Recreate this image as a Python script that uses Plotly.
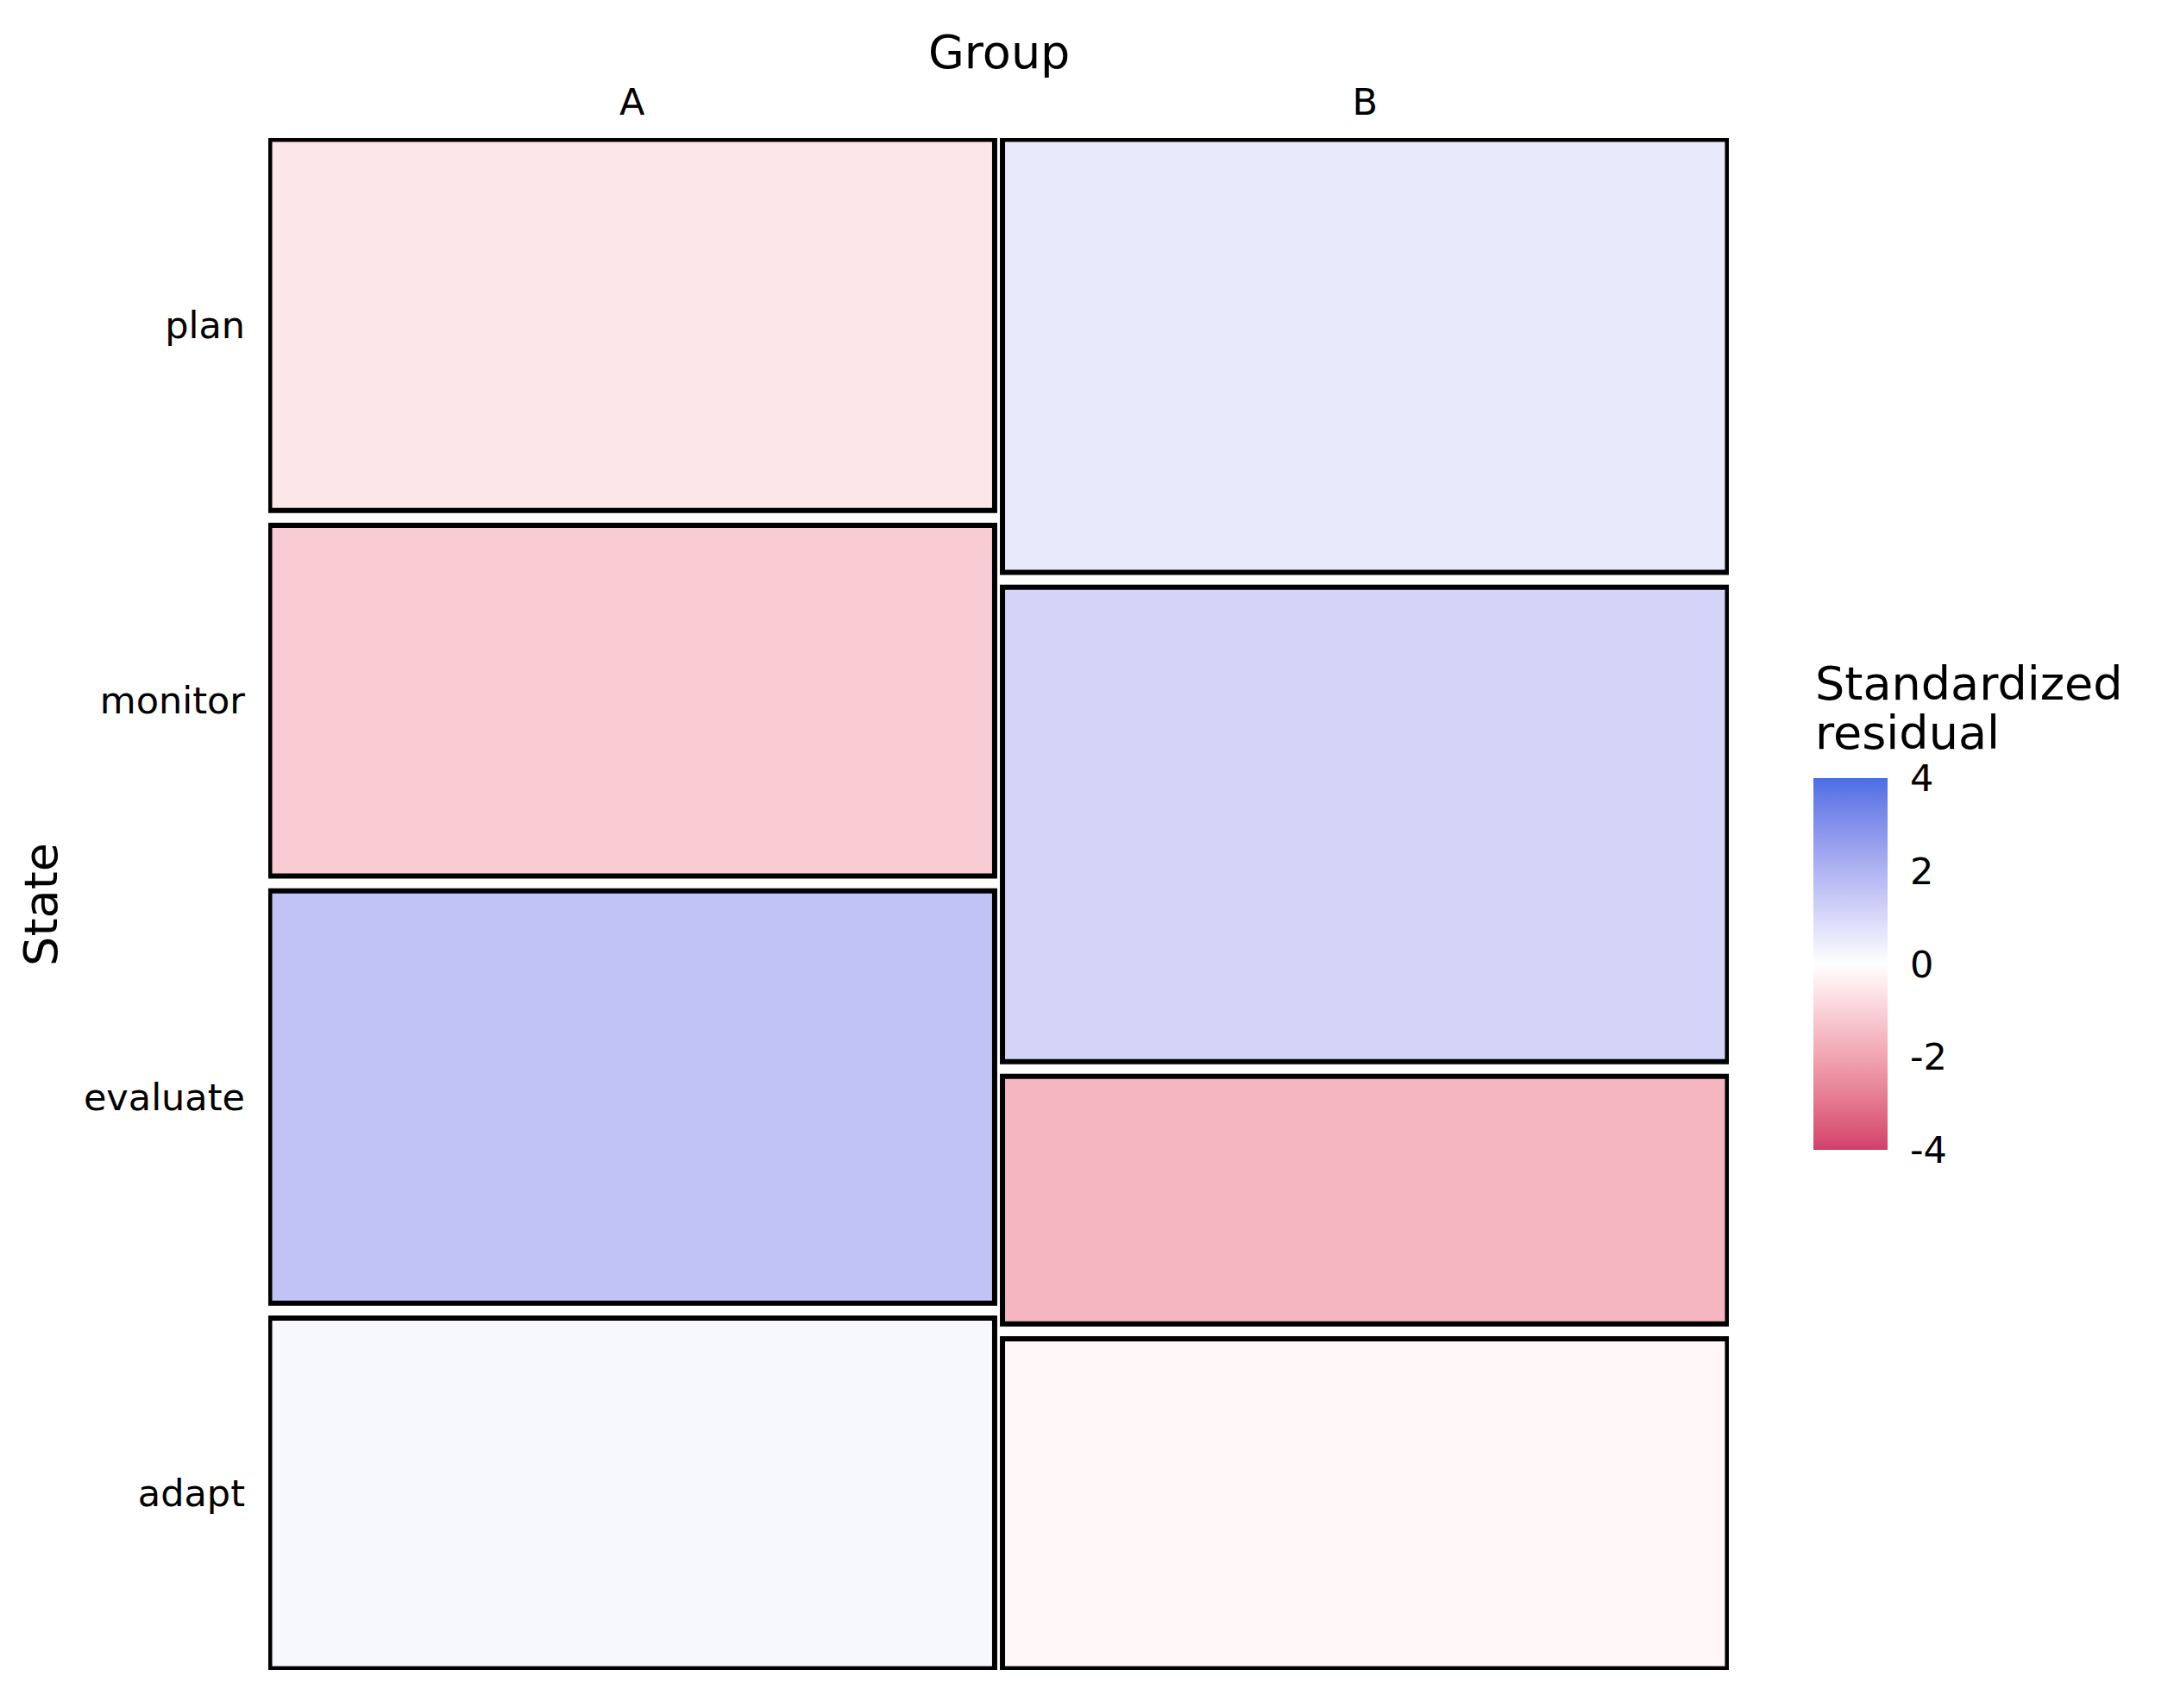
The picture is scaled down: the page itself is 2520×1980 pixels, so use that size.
import plotly.graph_objects as go

states = ["plan", "monitor", "evaluate", "adapt"]
groups = ["A", "B"]
counts_a = [18, 17, 20, 17]
counts_b = [21, 23, 12, 16]
resid_a = [-0.56, -1.12, 1.60, 0.20]
resid_b = [0.56, 1.12, -1.60, -0.20]

low_col, mid_col, high_col = "#D33F6A", "#FFFFFF", "#4A6FE3"
font = "DejaVu Sans"


# lab interpolation so the gradient looks like ggplot's gradient2
def to_lab(hexcol):
    rgb = [int(hexcol[i:i + 2], 16) / 255 for i in (1, 3, 5)]
    lin = [c / 12.92 if c <= 0.04045 else ((c + 0.055) / 1.055) ** 2.4 for c in rgb]
    X = (0.4124 * lin[0] + 0.3576 * lin[1] + 0.1805 * lin[2]) / 0.95047
    Y = 0.2126 * lin[0] + 0.7152 * lin[1] + 0.0722 * lin[2]
    Z = (0.0193 * lin[0] + 0.1192 * lin[1] + 0.9505 * lin[2]) / 1.08883
    f = lambda t: t ** (1 / 3) if t > 0.008856 else 7.787 * t + 16 / 116
    fx, fy, fz = f(X), f(Y), f(Z)
    return (116 * fy - 16, 500 * (fx - fy), 200 * (fy - fz))


def from_lab(L, a, b):
    fy = (L + 16) / 116
    fx = fy + a / 500
    fz = fy - b / 200
    g = lambda t: t ** 3 if t ** 3 > 0.008856 else (t - 16 / 116) / 7.787
    X, Y, Z = g(fx) * 0.95047, g(fy), g(fz) * 1.08883
    lin = [3.2406 * X - 1.5372 * Y - 0.4986 * Z,
           -0.9689 * X + 1.8758 * Y + 0.0415 * Z,
           0.0557 * X - 0.2040 * Y + 1.0570 * Z]
    out = []
    for c in lin:
        c = min(max(c, 0), 1)
        c = 12.92 * c if c <= 0.0031308 else 1.055 * c ** (1 / 2.4) - 0.055
        out.append(round(c * 255))
    return "rgb(%d,%d,%d)" % tuple(out)


def lab_scale(c0, c1, c2, n=12):
    l0, l1, l2 = to_lab(c0), to_lab(c1), to_lab(c2)
    stops = []
    for i in range(n + 1):
        t = i / n
        stops.append([t / 2, from_lab(*[l0[k] + (l1[k] - l0[k]) * t for k in range(3)])])
    for i in range(1, n + 1):
        t = i / n
        stops.append([0.5 + t / 2, from_lab(*[l1[k] + (l2[k] - l1[k]) * t for k in range(3)])])
    return stops


# mosaic geometry: equal column widths, 0.01 spacing between tiles
gap_y = 0.01
col_w = 0.5
gap_x = 0.0054
centers = [col_w / 2, col_w + gap_x + col_w / 2]


def stack(counts):
    tot = sum(counts)
    bases, heights = [], []
    cur = 0
    for c in counts:
        h = c / tot
        bases.append(cur)
        heights.append(h)
        cur += h + gap_y
    return bases, heights


base_a, h_a = stack(counts_a)
base_b, h_b = stack(counts_b)

fig = go.Figure()
fig.add_trace(go.Bar(
    x=[centers[0]] * 4 + [centers[1]] * 4,
    base=base_a + base_b,
    y=h_a + h_b,
    width=col_w,
    marker=dict(color=resid_a + resid_b, coloraxis="coloraxis",
                line=dict(color="black", width=6)),
    customdata=[[g, s] for g in groups for s in states],
    hovertemplate="%{customdata[0]} / %{customdata[1]}<br>%{marker.color}<extra></extra>",
))

ytick = [b + h / 2 for b, h in zip(base_a, h_a)]
total_y = 1 + gap_y * 3

fig.update_layout(
    width=2520, height=1980,
    margin=dict(l=303, r=524, t=152, b=52),
    plot_bgcolor="white", paper_bgcolor="white",
    font=dict(family=font, color="black", size=43),
    barmode="overlay",
    showlegend=False,
    xaxis=dict(range=[-0.0009, 1 + gap_x + 0.0009], side="top",
               tickvals=centers, ticktext=groups, showgrid=False,
               zeroline=False, showline=False, ticks="",
               ticklabelstandoff=17, tickfont=dict(size=43)),
    yaxis=dict(range=[total_y + 0.0009, -0.0009],
               tickvals=ytick, ticktext=states, showgrid=False,
               zeroline=False, showline=False, ticks="",
               ticklabelstandoff=26, tickfont=dict(size=43)),
    coloraxis=dict(
        cmin=-4, cmax=4, colorscale=lab_scale(low_col, mid_col, high_col),
        colorbar=dict(
            tickvals=[-4, -2, 0, 2, 4], ticktext=["-4", "-2", "0", "2", "4"],
            ticks="outside", ticklen=18, tickwidth=2,
            tickcolor="rgba(0,0,0,0)",
            tickfont=dict(size=43),
            thickness=86, thicknessmode="pixels",
            len=431, lenmode="pixels",
            x=1.058, xanchor="left", y=0.3395, yanchor="bottom",
            xpad=0, ypad=0, outlinewidth=0,
        ),
    ),
    annotations=[
        dict(text="Group", x=0.5, y=1.056, xref="paper", yref="paper",
             xanchor="center", yanchor="middle", showarrow=False,
             font=dict(size=54)),
        dict(text="State", x=-0.156, y=0.5, xref="paper", yref="paper",
             xanchor="center", yanchor="middle", showarrow=False,
             textangle=-90, font=dict(size=54)),
        dict(text="Standardized", x=1.058, y=0.6441, xref="paper", yref="paper",
             xanchor="left", yanchor="middle", showarrow=False,
             font=dict(size=54)),
        dict(text="residual", x=1.058, y=0.6115, xref="paper", yref="paper",
             xanchor="left", yanchor="middle", showarrow=False,
             font=dict(size=54)),
    ],
)

fig.write_html("out.html")
